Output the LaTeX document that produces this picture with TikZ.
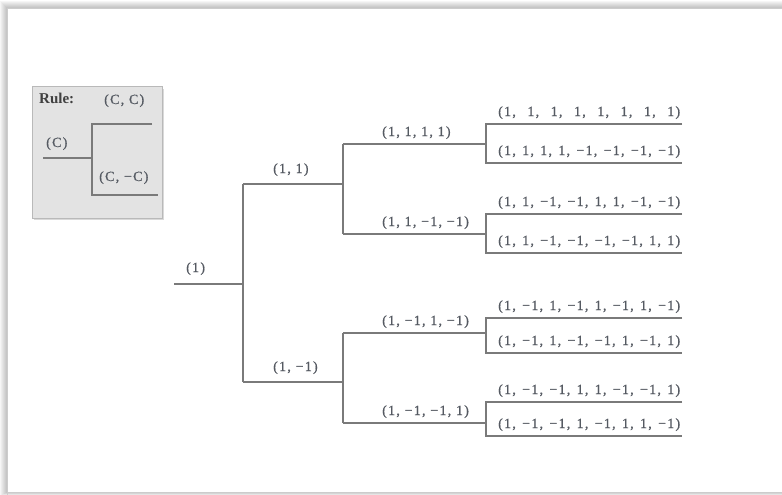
\documentclass[tikz,border=0pt]{standalone}
\usepackage{fontspec}
\setmainfont{Liberation Serif}
\newfontfamily\labfont[LetterSpace=9,FakeBold=0.8]{Liberation Serif}
\begin{document}
\begin{tikzpicture}[x=1pt,y=-1pt,
  branch/.style={draw=linegray,line width=1.6pt},
  lab/.style={inner sep=0pt,text=labgray,font=\labfont\fontsize{14}{16}\selectfont},
  rulebox/.style={draw=gray!55,fill=gray!22,line width=1pt}]
\definecolor{linegray}{HTML}{7A7A7A}
\definecolor{labgray}{HTML}{555A62}
\useasboundingbox (0,0) rectangle (782,495);
% page frame with a soft shadow
\foreach \i in {1,...,7}
  \fill[black,opacity=0.035] (7-\i,8-\i) rectangle (800,492+\i/2);
\fill[white] (7,8) rectangle (800,492);
\draw[gray!40,line width=0.6pt] (7,800) -- (7,8) -- (800,8);
\draw[gray!40,line width=0.6pt] (7,492) -- (800,492);

% rule legend
\fill[black,opacity=0.15] (34,89) rectangle (164,220);
\path[rulebox] (32,87) rectangle (162,218);
\node[anchor=base west,inner sep=0pt,text=black!75,font=\bfseries\fontsize{15}{17}\selectfont] (rtitle) at (39,103) {Rule:};
\coordinate (rin) at (43,158);
\coordinate (rsplit) at (92,158);
\coordinate (rtop) at (92,124);
\coordinate (rbot) at (92,195);
\coordinate (rtopend) at (152,124);
\coordinate (rbotend) at (158,195);
\draw[branch] (rin) -- (rsplit);
\draw[branch] (rtopend) -- (rtop) -- (rbot) -- (rbotend);
\node[lab,anchor=base west] (rC) at (46,147) {(C)};
\node[lab,anchor=base west] (rCC) at (104,104) {(C, C)};
\node[lab,anchor=base west] (rCmC) at (99,181) {(C, −C)};

% level 0 and level 1
\coordinate (root) at (174,284);
\coordinate (s0) at (243,284);
\coordinate (s0u) at (243,184);
\coordinate (s0d) at (243,382);
\coordinate (u) at (343,184);
\coordinate (d) at (343,382);
\draw[branch] (root) -- (s0);
\draw[branch] (s0u) -- (s0d);
\draw[branch] (s0u) -- (u);
\draw[branch] (s0d) -- (d);
\node[lab,anchor=base west] (l0) at (186,272) {(1)};
\node[lab,anchor=base west] (lu) at (273,173) {(1, 1)};
\node[lab,anchor=base west] (ld) at (273,371) {(1, −1)};

% level 2
\coordinate (uu) at (343,144); \coordinate (ud) at (343,234);
\coordinate (du) at (343,333); \coordinate (dd) at (343,423);
\coordinate (uuE) at (486,144); \coordinate (udE) at (486,234);
\coordinate (duE) at (486,333); \coordinate (ddE) at (486,423);
\draw[branch] (uu) -- (ud);
\draw[branch] (du) -- (dd);
\foreach \n in {uu,ud,du,dd} \draw[branch] (\n) -- (\n E);
\node[lab,anchor=base west] (luu) at (382,136) {(1, 1, 1, 1)};
\node[lab,anchor=base west] (lud) at (382,226) {(1, 1, −1, −1)};
\node[lab,anchor=base west] (ldu) at (382,325) {(1, −1, 1, −1)};
\node[lab,anchor=base west] (ldd) at (382,415) {(1, −1, −1, 1)};

% level 3
\foreach \n/\ya/\yb in {a/124/163, b/214/253, c/318/353, d/402/436}{
  \coordinate (\n1) at (486,\ya); \coordinate (\n2) at (486,\yb);
  \coordinate (\n1E) at (682,\ya); \coordinate (\n2E) at (682,\yb);
  \draw[branch] (\n1E) -- (\n1) -- (\n2) -- (\n2E);
}
\newcommand\leafbox[1]{\makebox[182pt][s]{#1}}
\node[lab,anchor=base west] (la1) at (498,116) {\leafbox{(1, 1, 1, 1, 1, 1, 1, 1)}};
\node[lab,anchor=base west] (la2) at (498,155) {\leafbox{(1, 1, 1, 1, −1, −1, −1, −1)}};
\node[lab,anchor=base west] (lb1) at (498,206) {\leafbox{(1, 1, −1, −1, 1, 1, −1, −1)}};
\node[lab,anchor=base west] (lb2) at (498,245) {\leafbox{(1, 1, −1, −1, −1, −1, 1, 1)}};
\node[lab,anchor=base west] (lc1) at (498,310) {\leafbox{(1, −1, 1, −1, 1, −1, 1, −1)}};
\node[lab,anchor=base west] (lc2) at (498,345) {\leafbox{(1, −1, 1, −1, −1, 1, −1, 1)}};
\node[lab,anchor=base west] (ld1) at (498,394) {\leafbox{(1, −1, −1, 1, 1, −1, −1, 1)}};
\node[lab,anchor=base west] (ld2) at (498,428) {\leafbox{(1, −1, −1, 1, −1, 1, 1, −1)}};
\end{tikzpicture}
\end{document}
